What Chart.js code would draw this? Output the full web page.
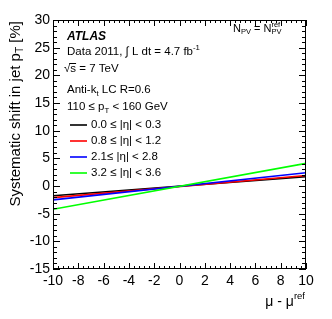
<!doctype html>
<html lang="en">
<head>
<meta charset="utf-8">
<title>Systematic shift in jet pT vs mu</title>
<style>
  * { margin: 0; padding: 0; }
  body { background: #fff; }
  .chartBox { width: 332px; height: 319px; position: relative; }
</style>
</head>
<body>
<div class="chartBox">
  <canvas id="myChart"></canvas>
</div>
<script src="https://cdn.jsdelivr.net/npm/chart.js"></script>
<script>
// data
const muDiff = [-10, 10];
const etaBins = ['0.0 \u2264 |\u03b7| < 0.3', '0.8 \u2264 |\u03b7| < 1.2', '2.1\u2264 |\u03b7| < 2.8', '3.2 \u2264 |\u03b7| < 3.6'];
const shiftEta1 = [-1.75, 1.7];
const shiftEta2 = [-2.1, 1.9];
const shiftEta3 = [-2.5, 2.4];
const shiftEta4 = [-4.2, 4.1];
const lineColors = ['#000000', '#ff0000', '#0000ff', '#00ff00'];

const FONT = '"Liberation Sans", Arial, Helvetica, sans-serif';

const allShifts = [shiftEta1, shiftEta2, shiftEta3, shiftEta4];
const datasets = allShifts.map((vals, i) => ({
    label: etaBins[i],
    data: muDiff.map((x, j) => ({ x: x, y: vals[j] })),
    borderColor: lineColors[i],
    borderWidth: 1.6,
    pointRadius: 0,
    showLine: true,
    order: 4 - i
}));

// draws text with sub/superscripts; plain strings are normal size
function drawRich(ctx, x, y, parts, size, align) {
    const big = size + 'px ' + FONT;
    const small = (size * 0.68).toFixed(1) + 'px ' + FONT;
    const widthOf = p => {
        if (typeof p === 'string') { ctx.font = big; return ctx.measureText(p).width; }
        if (p.over) { ctx.font = big; return ctx.measureText(p.over).width; }
        ctx.font = small;
        return Math.max(p.sub ? ctx.measureText(p.sub).width : 0, p.sup ? ctx.measureText(p.sup).width : 0);
    };
    const total = parts.reduce((s, p) => s + widthOf(p), 0);
    let cx = align === 'right' ? x - total : x;
    ctx.textAlign = 'left';
    ctx.textBaseline = 'middle';
    parts.forEach(p => {
        const w = widthOf(p);
        if (typeof p === 'string') {
            ctx.font = big;
            ctx.fillText(p, cx, y);
        } else if (p.over) {
            ctx.font = big;
            ctx.fillText(p.over, cx, y);
            ctx.fillRect(cx - 1, Math.round(y - size * 0.5), w + 1, 1);
        } else {
            ctx.font = small;
            if (p.sub) ctx.fillText(p.sub, cx, y + size * 0.3);
            if (p.sup) ctx.fillText(p.sup, cx, y - size * 0.38);
        }
        cx += w;
    });
    return total;
}

const frameAndText = {
    id: 'frameAndText',
    afterDraw(chart) {
        const ctx = chart.ctx;
        const a = chart.chartArea;
        const xs = chart.scales.x, ys = chart.scales.y;
        ctx.save();
        ctx.fillStyle = '#000';
        ctx.strokeStyle = '#000';
        ctx.lineWidth = 1;

        // frame
        ctx.strokeRect(a.left + 0.5, a.top + 0.5, a.right - a.left - 1, a.bottom - a.top - 1);

        // inside ticks, x
        ctx.beginPath();
        for (let k = 0; k <= 50; k++) {
            const v = -10 + k * 0.4;
            const px = Math.round(xs.getPixelForValue(v)) + 0.5;
            const len = k % 5 === 0 ? 6 : 3;
            ctx.moveTo(px, a.bottom);
            ctx.lineTo(px, a.bottom - len);
            ctx.moveTo(px, a.top);
            ctx.lineTo(px, a.top + len);
        }
        // inside ticks, y
        for (let v = -15; v <= 30; v++) {
            const py = Math.round(ys.getPixelForValue(v)) + 0.5;
            const len = v % 5 === 0 ? 7 : 4;
            ctx.moveTo(a.left, py);
            ctx.lineTo(a.left + len, py);
            ctx.moveTo(a.right, py);
            ctx.lineTo(a.right - len, py);
        }
        ctx.stroke();

        // axis titles
        ctx.save();
        ctx.translate(16, 21);
        ctx.rotate(-Math.PI / 2);
        drawRich(ctx, 0, 0, ['Systematic shift in jet p', { sub: 'T' }, ' [%]'], 15, 'right');
        ctx.restore();
        drawRich(ctx, 305, 302, ['\u03bc - \u03bc', { sup: 'ref' }], 14, 'right');

        // labels
        ctx.font = 'italic bold 12px ' + FONT;
        ctx.textAlign = 'left';
        ctx.textBaseline = 'middle';
        ctx.fillText('ATLAS', 67, 37);
        drawRich(ctx, 67, 52, ['Data 2011, \u222b L dt = 4.7 fb', { sup: '-1' }], 11.5);
        drawRich(ctx, 64, 69, ['\u221a', { over: 's' }, ' = 7 TeV'], 11.5);
        drawRich(ctx, 67, 90, ['Anti-k', { sub: 't' }, ' LC R=0.6'], 11.5);
        drawRich(ctx, 67, 107, ['110 \u2264 p', { sub: 'T' }, ' < 160 GeV'], 11.5);
        drawRich(ctx, 233, 29, ['N', { sub: 'PV' }, ' = N', { sub: 'PV', sup: 'ref' }], 11);

        // legend
        const legendY = [125, 141, 157, 173];
        etaBins.forEach((lab, i) => {
            ctx.strokeStyle = lineColors[i];
            ctx.lineWidth = 1.6;
            ctx.beginPath();
            ctx.moveTo(70, legendY[i]);
            ctx.lineTo(87, legendY[i]);
            ctx.stroke();
            ctx.fillStyle = '#000';
            drawRich(ctx, 91, legendY[i], [lab], 11.5);
        });
        ctx.restore();
    }
};

const config = {
    type: 'scatter',
    data: { datasets: datasets },
    options: {
        animation: false,
        responsive: true,
        maintainAspectRatio: false,
        layout: { padding: { top: 20, right: 26, left: 0, bottom: 0 } },
        plugins: { legend: { display: false }, tooltip: { enabled: false } },
        scales: {
            x: {
                type: 'linear',
                min: -10,
                max: 10,
                grid: { display: false, drawTicks: false },
                border: { display: false },
                ticks: {
                    stepSize: 2,
                    maxRotation: 0,
                    autoSkip: false,
                    padding: 4,
                    color: '#000',
                    font: { family: FONT, size: 14 }
                },
                afterFit: s => { s.height = 50; }
            },
            y: {
                type: 'linear',
                min: -15,
                max: 30,
                grid: { display: false, drawTicks: false },
                border: { display: false },
                ticks: {
                    stepSize: 5,
                    padding: 3,
                    color: '#000',
                    font: { family: FONT, size: 14 }
                },
                afterFit: s => { s.width = 53; }
            }
        }
    },
    plugins: [frameAndText]
};

const myChart = new Chart(document.getElementById('myChart'), config);
</script>
</body>
</html>
